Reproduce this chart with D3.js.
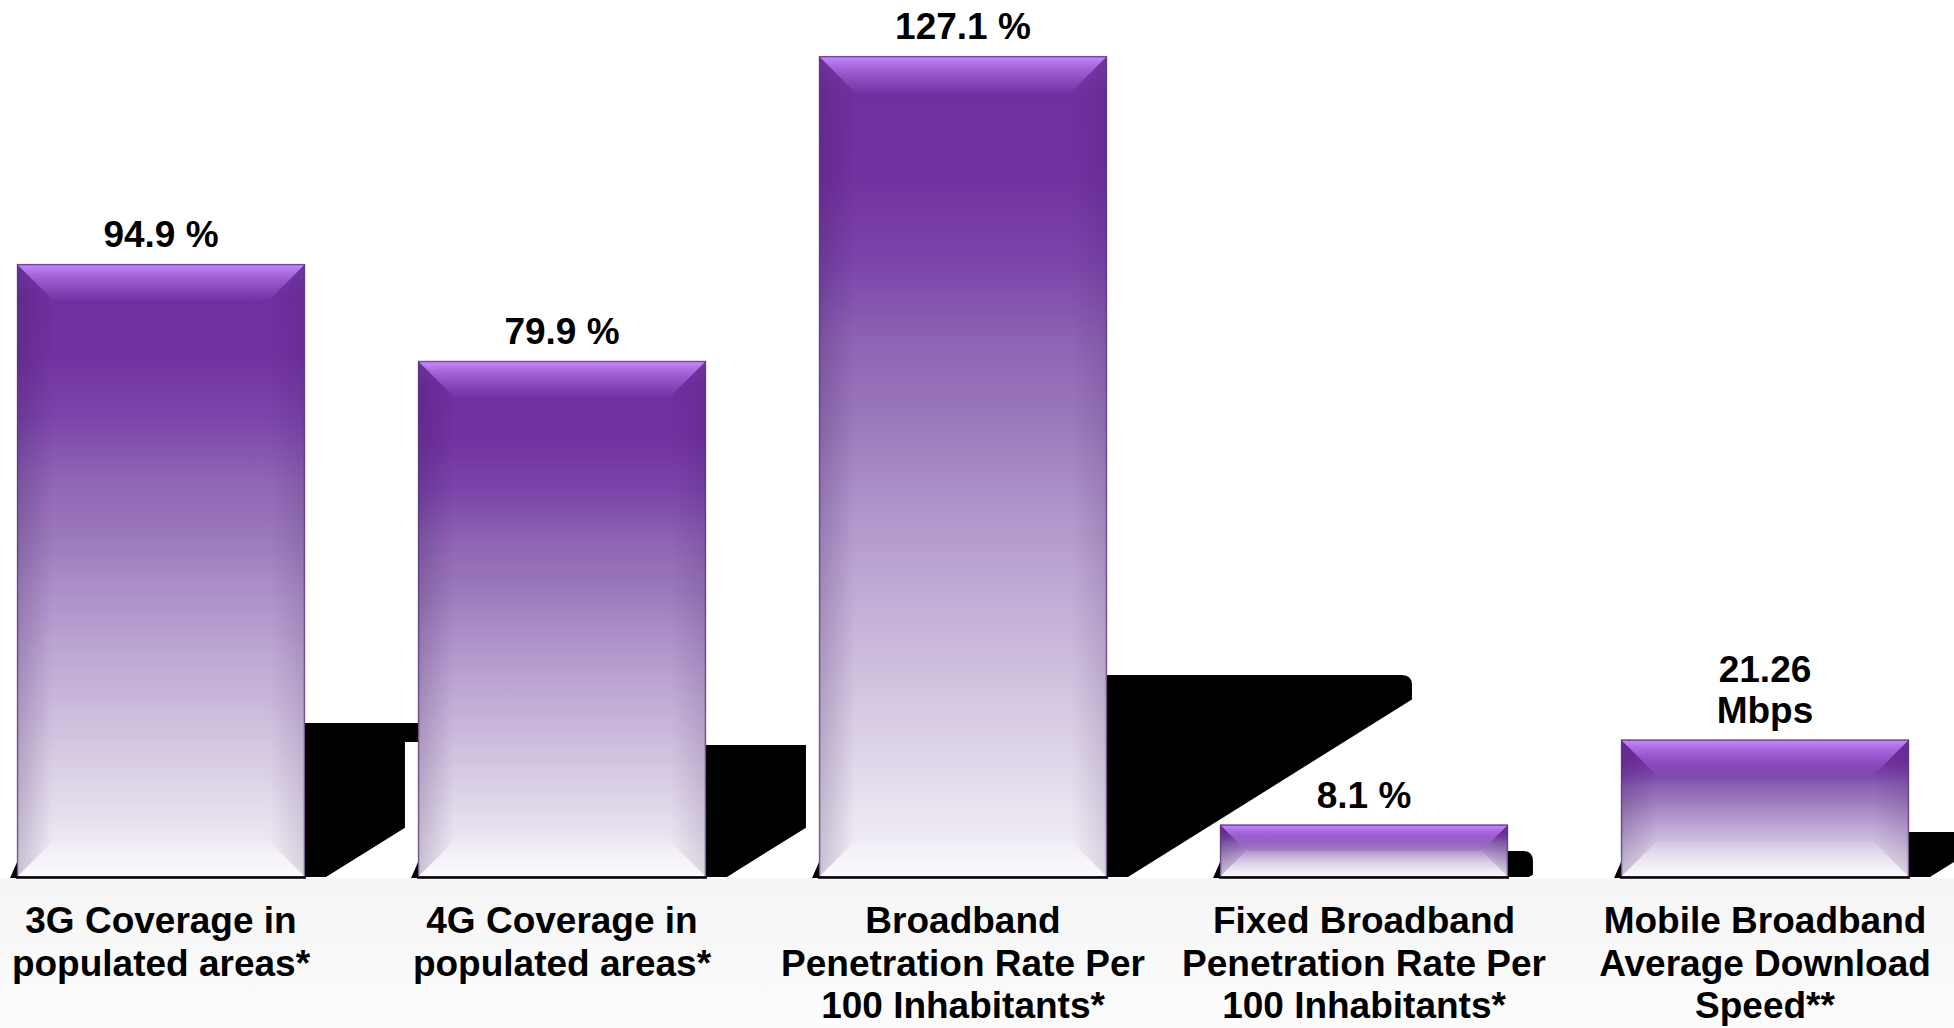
<!DOCTYPE html>
<html>
<head>
<meta charset="utf-8">
<script src="https://cdn.jsdelivr.net/npm/d3@7"></script>
<style>
  html, body { margin: 0; padding: 0; background: #ffffff; }
  svg { display: block; }
  text { font-family: "Liberation Sans", Arial, sans-serif; font-weight: bold; fill: #000; }
</style>
</head>
<body>
<svg id="chart" width="1954" height="1028"></svg>
<script>
// ---- data ----
const categories = [
  "3G Coverage in populated areas*",
  "4G Coverage in populated areas*",
  "Broadband Penetration Rate Per 100 Inhabitants*",
  "Fixed Broadband Penetration Rate Per 100 Inhabitants*",
  "Mobile Broadband Average Download Speed**"
];
const categoryLines = [
  ["3G Coverage in", "populated areas*"],
  ["4G Coverage in", "populated areas*"],
  ["Broadband", "Penetration Rate Per", "100 Inhabitants*"],
  ["Fixed Broadband", "Penetration Rate Per", "100 Inhabitants*"],
  ["Mobile Broadband", "Average Download", "Speed**"]
];
const values = [94.9, 79.9, 127.1, 8.1, 21.26];
const valueLabels = [["94.9 %"], ["79.9 %"], ["127.1 %"], ["8.1 %"], ["21.26", "Mbps"]];

// ---- style (shadow geometry per bar) ----
const shadowStyle = [
  { h: 154, w: 100, notchW: 125, notchH: 19 },
  { h: 132, w: 100, sq: true },
  { h: 202, w: 305 },
  { h: 26,  w: 25 },
  { h: 45,  w: 60 }
];

const W = 1954, H = 1028, base = 877;
const svg = d3.select("#chart");
const defs = svg.append("defs");

// background band below bars
const bg = defs.append("linearGradient").attr("id", "bgGrad").attr("x1", 0).attr("y1", 0).attr("x2", 0).attr("y2", 1);
bg.append("stop").attr("offset", 0).attr("stop-color", "#f5f5f5");
bg.append("stop").attr("offset", 1).attr("stop-color", "#fcfcfc");
svg.append("rect").attr("x", 0).attr("y", base + 1).attr("width", W).attr("height", H - base - 1).attr("fill", "url(#bgGrad)");

// bar gradient
const g1 = defs.append("linearGradient").attr("id", "barGrad").attr("x1", 0).attr("y1", 0).attr("x2", 0).attr("y2", 1);
[[0, "#7a3cac"], [0.05, "#7030a0"], [0.15, "#7232a0"], [0.25, "#7c44aa"], [0.35, "#8e64b4"],
 [0.45, "#9c7abc"], [0.52, "#aa8cc6"], [0.64, "#bea8d4"], [0.77, "#d2c4e0"], [0.9, "#e6e0ee"],
 [1, "#f6f4f8"]].forEach(([o, c]) =>
  g1.append("stop").attr("offset", o).attr("stop-color", c));

const gTop = defs.append("linearGradient").attr("id", "topBev").attr("x1", 0).attr("y1", 0).attr("x2", 0).attr("y2", 1);
gTop.append("stop").attr("offset", 0).attr("stop-color", "#c98cff").attr("stop-opacity", 1);
gTop.append("stop").attr("offset", 0.25).attr("stop-color", "#b978f0").attr("stop-opacity", 0.8);
gTop.append("stop").attr("offset", 1).attr("stop-color", "#9a60d8").attr("stop-opacity", 0.1);

const gLeft = defs.append("linearGradient").attr("id", "leftBev").attr("x1", 0).attr("y1", 0).attr("x2", 1).attr("y2", 0);
gLeft.append("stop").attr("offset", 0).attr("stop-color", "#301050").attr("stop-opacity", 0.22);
gLeft.append("stop").attr("offset", 1).attr("stop-color", "#301050").attr("stop-opacity", 0.0);

const gRight = defs.append("linearGradient").attr("id", "rightBev").attr("x1", 1).attr("y1", 0).attr("x2", 0).attr("y2", 0);
gRight.append("stop").attr("offset", 0).attr("stop-color", "#301050").attr("stop-opacity", 0.14);
gRight.append("stop").attr("offset", 1).attr("stop-color", "#301050").attr("stop-opacity", 0.0);

const gBot = defs.append("linearGradient").attr("id", "botBev").attr("x1", 0).attr("y1", 1).attr("x2", 0).attr("y2", 0);
gBot.append("stop").attr("offset", 0).attr("stop-color", "#ffffff").attr("stop-opacity", 0.5);
gBot.append("stop").attr("offset", 1).attr("stop-color", "#ffffff").attr("stop-opacity", 0.1);

// ---- scales ----
const x = d3.scaleBand().domain(categories).range([-39.5, 1965.5]).paddingInner(0.282).paddingOuter(0.141);
const y = d3.scaleLinear().domain([0, 135.8]).range([base, 0]);

const data = categories.map((c, i) => ({ c, v: values[i], i }));

// ---- shadows ----
const shadowG = svg.append("g");
shadowG.selectAll("path.shadow").data(data).join("path")
  .attr("class", "shadow")
  .attr("fill", "#000")
  .attr("d", d => {
    const s = shadowStyle[d.i];
    const R = x(d.c) + x.bandwidth();
    const top = base - s.h;
    const dd = (s.w - 21) / 1.6;
    const r = s.sq ? 0 : Math.min(10, s.h / 2);
    let p = `M${R},${top}`;
    if (s.notchW) {
      p += ` H${R + s.notchW} V${top + s.notchH} H${R + s.w} V${base - dd}`;
    } else {
      p += ` H${R + s.w - r} Q${R + s.w},${top} ${R + s.w},${top + r} V${Math.max(top + r, base - dd)}`;
    }
    p += ` L${R + 21},${base} H${R} Z`;
    return p;
  });
// small slivers at left bottom of bars
shadowG.selectAll("path.sliver").data(data).join("path")
  .attr("class", "sliver")
  .attr("fill", "#000")
  .attr("d", d => {
    const L = x(d.c);
    return `M${L - 7},${base + 1} L${L},${base - 15} L${L},${base + 1} Z`;
  });

// ---- bars ----
const bars = svg.append("g").selectAll("g.bar").data(data).join("g").attr("class", "bar");
bars.append("rect")
  .attr("x", d => x(d.c)).attr("y", d => y(d.v))
  .attr("width", x.bandwidth()).attr("height", d => base - y(d.v))
  .attr("fill", "url(#barGrad)");

function bev(d) {
  const L = x(d.c), R = L + x.bandwidth(), T = y(d.v), B = base;
  const b = Math.min(36, (B - T) / 2);
  return { L, R, T, B, b };
}
bars.append("path").attr("fill", "url(#leftBev)").attr("d", d => {
  const { L, T, B, b } = bev(d);
  return `M${L},${T} L${L + b},${T + b} L${L + b},${B - b} L${L},${B} Z`;
});
bars.append("path").attr("fill", "url(#rightBev)").attr("d", d => {
  const { R, T, B, b } = bev(d);
  return `M${R},${T} L${R - b},${T + b} L${R - b},${B - b} L${R},${B} Z`;
});
bars.append("path").attr("fill", "url(#botBev)").attr("d", d => {
  const { L, R, B, b } = bev(d);
  return `M${L},${B} L${L + b},${B - b} L${R - b},${B - b} L${R},${B} Z`;
});
bars.append("path").attr("fill", "url(#topBev)").attr("d", d => {
  const { L, R, T, b } = bev(d);
  return `M${L},${T} L${R},${T} L${R - b},${T + b} L${L + b},${T + b} Z`;
});
// outlines
bars.append("rect")
  .attr("x", d => x(d.c) + 0.5).attr("y", d => y(d.v) + 0.5)
  .attr("width", x.bandwidth() - 1).attr("height", d => base - y(d.v) - 0.5)
  .attr("fill", "none").attr("stroke", "#5a3a7a").attr("stroke-opacity", 0.75).attr("stroke-width", 1.5);
bars.append("line")
  .attr("x1", d => x(d.c) - 1).attr("x2", d => x(d.c) + x.bandwidth() + 1)
  .attr("y1", base + 0.5).attr("y2", base + 0.5)
  .attr("stroke", "#000").attr("stroke-width", 2.5);

// ---- value labels ----
bars.append("text")
  .attr("text-anchor", "middle")
  .attr("font-size", 37)
  .attr("x", d => x(d.c) + x.bandwidth() / 2)
  .attr("y", d => y(d.v) - 17 - (valueLabels[d.i].length - 1) * 41)
  .each(function (d) {
    const t = d3.select(this);
    valueLabels[d.i].forEach((line, k) => {
      t.append("tspan").attr("x", x(d.c) + x.bandwidth() / 2).attr("dy", k === 0 ? 0 : 41).text(line);
    });
  });

// ---- category axis ----
const axis = d3.axisBottom(x).tickSize(0).tickPadding(0);
const axG = svg.append("g").attr("transform", `translate(0,${base})`).call(axis);
axG.select(".domain").remove();
axG.selectAll(".tick text")
  .attr("font-family", "'Liberation Sans', Arial, sans-serif")
  .attr("font-weight", "bold")
  .attr("font-size", 37)
  .attr("fill", "#000")
  .attr("dy", null)
  .attr("y", 56)
  .text(null)
  .each(function (c) {
    const i = categories.indexOf(c);
    const t = d3.select(this);
    categoryLines[i].forEach((line, k) => {
      t.append("tspan").attr("x", 0).attr("dy", k === 0 ? 0 : 42.5).text(line);
    });
  });
</script>
</body>
</html>
